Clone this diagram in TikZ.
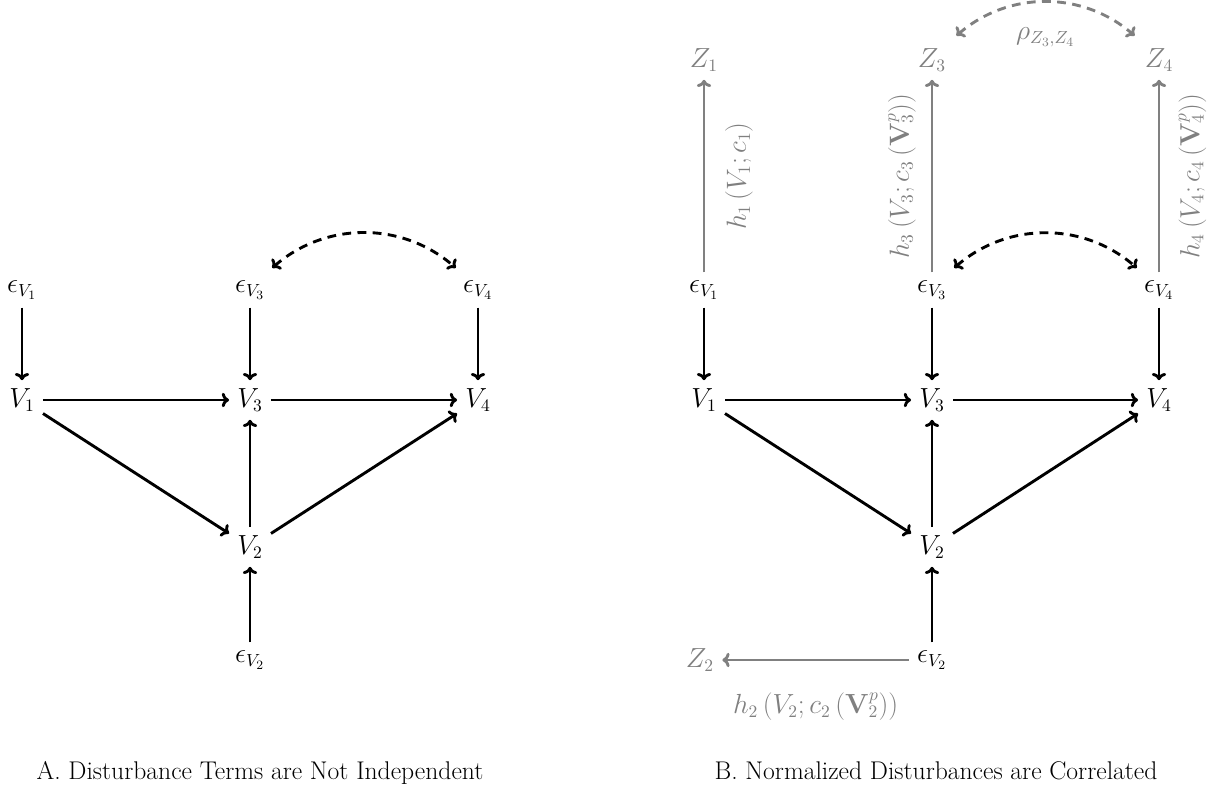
\documentclass[tikz,border=0pt]{standalone}
\usetikzlibrary{arrows.meta,bending}
\newcommand{\figfont}{\fontsize{16pt}{19pt}\selectfont}
\begin{document}
\begin{tikzpicture}[x=0.625pt, y=-0.625pt,
  var/.style={font=\figfont, inner sep=5pt},
  zvar/.style={var, text=gray},
  link/.style={-{To[length=4.5pt,width=9pt]}, line width=1.8pt},
  nlink/.style={link, draw=gray},
  corr/.style={{To[length=4.5pt,width=9pt]}-{To[length=4.5pt,width=9pt]}, line width=1.8pt,
    dash pattern=on 5.5pt off 4pt, shorten <=4pt, shorten >=4pt},
  hlabel/.style={font=\figfont, text=gray, midway, sloped},
  caption/.style={font=\figfont, anchor=base}]
\useasboundingbox (0,0) rectangle (1209,788);

% ---- Panel A ----
\node[var] (aE1) at (22,290) {$\epsilon_{V_1}$};
\node[var] (aE3) at (250,290) {$\epsilon_{V_3}$};
\node[var] (aE4) at (478,290) {$\epsilon_{V_4}$};
\node[var] (aV1) at (22,400) {$V_1$};
\node[var] (aV3) at (250,400) {$V_3$};
\node[var] (aV4) at (478,400) {$V_4$};
\node[var] (aV2) at (250,547) {$V_2$};
\node[var] (aE2) at (250,660) {$\epsilon_{V_2}$};

\draw[link] (aE1) -- (aV1);
\draw[link] (aE3) -- (aV3);
\draw[link] (aE4) -- (aV4);
\draw[link] (aV1) -- (aV3);
\draw[link] (aV3) -- (aV4);
\draw[link] (aV1) -- (aV2);
\draw[link] (aV2) -- (aV3);
\draw[link] (aV2) -- (aV4);
\draw[link] (aE2) -- (aV2);
\draw[corr] (aE3) to[bend left=45] (aE4);

\node[caption] (capA) at (260,779) {A. Disturbance Terms are Not Independent};

% ---- Panel B ----
\node[var] (bE1) at (704,290) {$\epsilon_{V_1}$};
\node[var] (bE3) at (932,290) {$\epsilon_{V_3}$};
\node[var] (bE4) at (1159,290) {$\epsilon_{V_4}$};
\node[var] (bV1) at (704,400) {$V_1$};
\node[var] (bV3) at (932,400) {$V_3$};
\node[var] (bV4) at (1159,400) {$V_4$};
\node[var] (bV2) at (932,547) {$V_2$};
\node[var] (bE2) at (932,660) {$\epsilon_{V_2}$};

\node[zvar] (bZ1) at (704,60) {$Z_1$};
\node[zvar] (bZ3) at (932,60) {$Z_3$};
\node[zvar] (bZ4) at (1159,60) {$Z_4$};
\node[zvar] (bZ2) at (700,660) {$Z_2$};

\draw[link] (bE1) -- (bV1);
\draw[link] (bE3) -- (bV3);
\draw[link] (bE4) -- (bV4);
\draw[link] (bV1) -- (bV3);
\draw[link] (bV3) -- (bV4);
\draw[link] (bV1) -- (bV2);
\draw[link] (bV2) -- (bV3);
\draw[link] (bV2) -- (bV4);
\draw[link] (bE2) -- (bV2);
\draw[corr] (bE3) to[bend left=45] (bE4);

% normalising transforms
\draw[nlink] (bE1) -- (bZ1)
  node[hlabel, below=9pt] {$h_1\left(V_1;c_1\right)$};
\draw[nlink] (bE3) -- (bZ3)
  node[hlabel, above=6pt] {$h_3\left(V_3;c_3\left(\mathbf{V}_3^p\right)\right)$};
\draw[nlink] (bE4) -- (bZ4)
  node[hlabel, below=8pt] {$h_4\left(V_4;c_4\left(\mathbf{V}_4^p\right)\right)$};
\draw[nlink] (bE2) -- (bZ2)
  node[hlabel, below=16pt] {$h_2\left(V_2;c_2\left(\mathbf{V}_2^p\right)\right)$};
\draw[corr, draw=gray] (bZ3) to[bend left=45]
  node[midway, below=12pt, font=\figfont, text=gray] {$\rho_{Z_3,Z_4}$} (bZ4);

\node[caption] (capB) at (936,779) {B. Normalized Disturbances are Correlated};
\end{tikzpicture}
\end{document}
